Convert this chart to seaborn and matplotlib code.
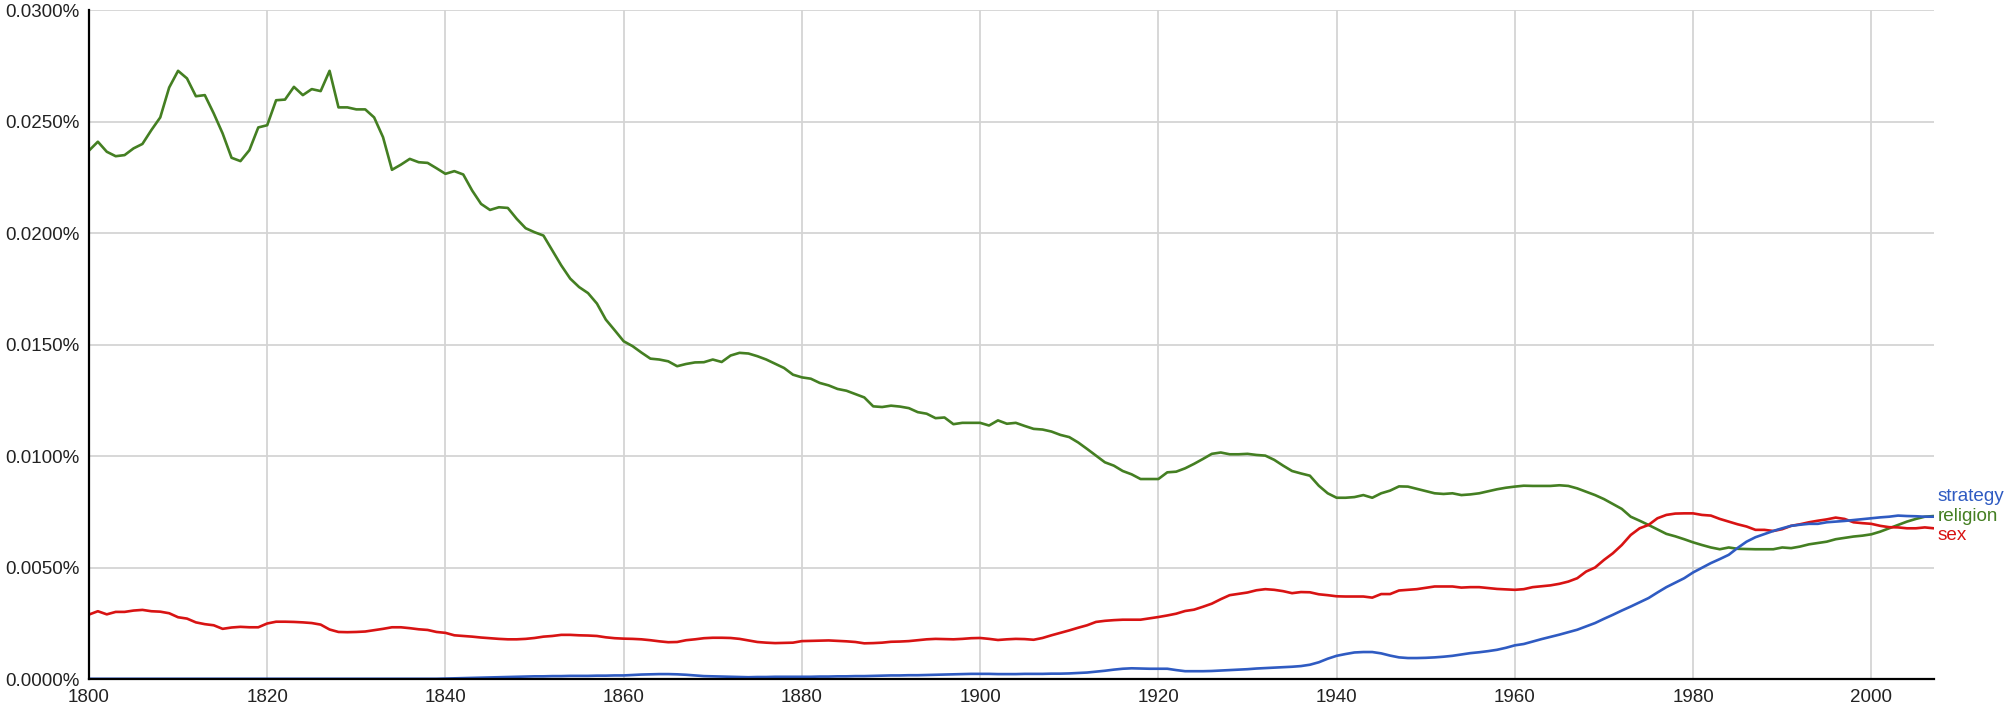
import numpy as np
import pandas as pd
import matplotlib
matplotlib.use("Agg")
import matplotlib.pyplot as plt
import seaborn as sns

# yearly frequencies in percent (1800-2007)
years = list(range(1800, 2008))

religion = [
    0.0237, 0.0241, 0.02365, 0.02345, 0.0235, 0.0238, 0.0240, 0.02462, 0.02519, 0.02653,
    0.02728, 0.02694, 0.02614, 0.02619, 0.02537, 0.02447, 0.02338, 0.02323, 0.02372, 0.02474,
    0.02484, 0.02596, 0.02599, 0.02656, 0.02619, 0.02646, 0.02637, 0.02728, 0.02564, 0.02564,
    0.02555, 0.02555, 0.02519, 0.0243, 0.02284, 0.02307, 0.02333, 0.02318, 0.02315, 0.02291,
    0.02266, 0.02278, 0.02263, 0.02191, 0.02131, 0.02104, 0.02116, 0.02113, 0.02064, 0.02022,
    0.02004, 0.01989, 0.01922, 0.01855, 0.01796, 0.01758, 0.01731, 0.01684, 0.01612, 0.01564,
    0.01515, 0.01493, 0.01464, 0.01437, 0.01433, 0.01425, 0.01403, 0.01413, 0.0142, 0.01421,
    0.01433, 0.01422, 0.01451, 0.01463, 0.0146, 0.01448, 0.01433, 0.01414, 0.01395, 0.01365,
    0.01353, 0.01347, 0.01328, 0.01317, 0.01301, 0.01293, 0.01278, 0.01263, 0.01223, 0.0122,
    0.01226, 0.01222, 0.01215, 0.01197, 0.0119, 0.0117, 0.01173, 0.01143, 0.01149, 0.01149,
    0.01149, 0.01137, 0.0116, 0.01145, 0.01149, 0.01135, 0.01122, 0.01119, 0.0111, 0.01095,
    0.01085, 0.01061, 0.01032, 0.01002, 0.00972, 0.00957, 0.00933, 0.00918, 0.00897, 0.00897,
    0.00897, 0.00927, 0.0093, 0.00945, 0.00965, 0.00987, 0.0101, 0.01016, 0.01008, 0.01008,
    0.0101, 0.01005, 0.01002, 0.00983, 0.00957, 0.00933, 0.00922, 0.00912, 0.00867, 0.00833,
    0.00813, 0.00813, 0.00816, 0.00825, 0.00813, 0.00833, 0.00845, 0.00864, 0.00863, 0.00853,
    0.00843, 0.00833, 0.0083, 0.00833, 0.00825, 0.00828, 0.00833, 0.00842, 0.00851, 0.00858,
    0.00863, 0.00867, 0.00866, 0.00866, 0.00866, 0.00869, 0.00866, 0.00855, 0.0084, 0.00825,
    0.00807, 0.00785, 0.00763, 0.00728, 0.0071, 0.00691, 0.00671, 0.00651, 0.0064, 0.00627,
    0.00613, 0.00601, 0.0059, 0.00582, 0.0059, 0.00584, 0.00583, 0.00582, 0.00582, 0.00582,
    0.0059, 0.00587, 0.00594, 0.00604, 0.0061, 0.00616, 0.00627, 0.00633, 0.00639, 0.00643,
    0.00649, 0.00661, 0.00676, 0.00691, 0.00706, 0.00718, 0.00728, 0.00731,
]

sex = [
    0.00289, 0.00304, 0.0029, 0.00301, 0.00301, 0.00307, 0.0031, 0.00304, 0.00302, 0.00295,
    0.00277, 0.00271, 0.00254, 0.00246, 0.00241, 0.00225, 0.00231, 0.00234, 0.00232, 0.00232,
    0.00249, 0.00257, 0.00257, 0.00256, 0.00254, 0.00251, 0.00244, 0.00222, 0.00211, 0.0021,
    0.00211, 0.00213, 0.00219, 0.00225, 0.00232, 0.00232, 0.00228, 0.00223, 0.0022, 0.00211,
    0.00207, 0.00196, 0.00193, 0.0019, 0.00186, 0.00183, 0.0018, 0.00178, 0.00178, 0.0018,
    0.00184, 0.0019, 0.00193, 0.00198, 0.00198, 0.00196, 0.00195, 0.00193, 0.00187, 0.00183,
    0.00181, 0.0018, 0.00178, 0.00174, 0.00169, 0.00165, 0.00166, 0.00174, 0.00178, 0.00183,
    0.00185, 0.00185, 0.00184, 0.0018, 0.00173, 0.00166, 0.00163, 0.00161, 0.00162, 0.00163,
    0.0017, 0.00171, 0.00172, 0.00173, 0.00171, 0.00169, 0.00166, 0.0016, 0.00161, 0.00163,
    0.00167, 0.00168, 0.0017, 0.00174, 0.00178, 0.0018, 0.00179, 0.00178, 0.0018, 0.00183,
    0.00184, 0.0018, 0.00175, 0.00178, 0.0018, 0.00179, 0.00176, 0.00184, 0.00196, 0.00207,
    0.00218, 0.0023, 0.00241, 0.00256, 0.00261, 0.00264, 0.00266, 0.00266, 0.00266, 0.00272,
    0.00278, 0.00285, 0.00293, 0.00305, 0.00311, 0.00324, 0.00338, 0.00358, 0.00376, 0.00382,
    0.00388, 0.00398, 0.00403, 0.004, 0.00394, 0.00385, 0.0039, 0.00389, 0.0038, 0.00376,
    0.00371, 0.0037, 0.0037, 0.0037, 0.00365, 0.00381, 0.00381, 0.00397, 0.004, 0.00403,
    0.00409, 0.00415, 0.00415, 0.00415, 0.0041, 0.00412, 0.00412, 0.00408, 0.00404, 0.00402,
    0.004, 0.00403, 0.00412, 0.00416, 0.0042, 0.00427, 0.00437, 0.00452, 0.00482, 0.005,
    0.00534, 0.00564, 0.00601, 0.00646, 0.00676, 0.00691, 0.00721, 0.00736, 0.00742, 0.00743,
    0.00743, 0.00736, 0.00733, 0.00718, 0.00706, 0.00694, 0.00684, 0.00669, 0.00669, 0.00664,
    0.00672, 0.00687, 0.00694, 0.00703, 0.0071, 0.00716, 0.00724, 0.00718, 0.00703, 0.00699,
    0.00696, 0.00687, 0.00681, 0.0068, 0.00676, 0.00676, 0.0068, 0.00676,
]

strategy = [
    0.00001, 0.00001, 0.00001, 0.00001, 0.00001, 0.00001, 0.00001, 0.00001, 0.00001, 0.00001,
    0.00001, 0.00001, 0.00001, 0.00001, 0.00001, 0.00001, 0.00001, 0.00001, 0.00001, 0.00001,
    0.00001, 0.00001, 0.00001, 0.00001, 0.00001, 0.00001, 0.00001, 0.00001, 0.00001, 0.00001,
    0.00001, 0.00001, 0.00001, 0.00001, 0.00001, 0.00001, 0.00001, 0.00001, 0.00001, 0.00001,
    0.00002, 0.00003, 0.00004, 0.00005, 0.00006, 0.00007, 0.00008, 0.00009, 0.0001, 0.00011,
    0.00012, 0.00012, 0.00013, 0.00013, 0.00014, 0.00014, 0.00014, 0.00015, 0.00015, 0.00016,
    0.00016, 0.00018, 0.0002, 0.00021, 0.00022, 0.00022, 0.00021, 0.00019, 0.00016, 0.00013,
    0.00012, 0.00011, 0.0001, 0.00009, 0.00008, 0.00009, 0.00009, 0.0001, 0.0001, 0.0001,
    0.0001, 0.0001, 0.00011, 0.00011, 0.00012, 0.00012, 0.00013, 0.00013, 0.00014, 0.00015,
    0.00016, 0.00016, 0.00017, 0.00017, 0.00018, 0.00019, 0.0002, 0.00021, 0.00022, 0.00023,
    0.00023, 0.00023, 0.00022, 0.00022, 0.00022, 0.00023, 0.00023, 0.00023, 0.00024, 0.00024,
    0.00025, 0.00027, 0.00029, 0.00033, 0.00037, 0.00042, 0.00046, 0.00048, 0.00047, 0.00046,
    0.00046, 0.00046, 0.0004, 0.00035, 0.00035, 0.00035, 0.00036, 0.00038, 0.0004, 0.00042,
    0.00044, 0.00047, 0.00049, 0.00051, 0.00053, 0.00055, 0.00058, 0.00064, 0.00075, 0.00091,
    0.00104, 0.00112, 0.00119, 0.00121, 0.00121, 0.00115, 0.00105, 0.00097, 0.00094, 0.00094,
    0.00095, 0.00097, 0.001, 0.00104, 0.0011, 0.00116, 0.0012, 0.00125, 0.00131, 0.0014,
    0.00151, 0.00157, 0.00168, 0.00179, 0.00189, 0.00199, 0.0021, 0.00221, 0.00236, 0.00251,
    0.0027, 0.00288, 0.00307, 0.00325, 0.00344, 0.00363, 0.00388, 0.00412, 0.00432, 0.00452,
    0.00478, 0.00499, 0.0052, 0.00538, 0.00557, 0.00588, 0.00616, 0.00636, 0.0065, 0.00664,
    0.00676, 0.00687, 0.00692, 0.00696, 0.00696, 0.00703, 0.00706, 0.00709, 0.00713, 0.00717,
    0.00721, 0.00725, 0.00728, 0.00733, 0.00731, 0.0073, 0.00728, 0.00728,
]

words = ["strategy", "religion", "sex"]
colors = {"strategy": "#2f5bc2", "religion": "#447f22", "sex": "#d81313"}
x_ticks = list(range(1800, 2001, 20))
y_ticks = [0.0, 0.005, 0.01, 0.015, 0.02, 0.025, 0.03]

df = pd.DataFrame({
    "year": years * 3,
    "freq": strategy + religion + sex,
    "word": ["strategy"] * len(years) + ["religion"] * len(years) + ["sex"] * len(years),
})

sns.set_style("white")
plt.rcParams["font.family"] = ["Liberation Sans", "DejaVu Sans"]

fig = plt.figure(figsize=(20.08, 7.07), dpi=100)
ax = fig.add_axes([0.0443, 0.0396, 0.9187, 0.946])

# religion first, then sex, strategy on top
sns.lineplot(data=df, x="year", y="freq", hue="word", hue_order=["religion", "sex", "strategy"],
             palette=colors, linewidth=1.9, legend=False, ax=ax)

ax.set_xlim(1800, 2007)
ax.set_ylim(0, 0.03)
ax.set_xticks(x_ticks)
ax.set_yticks(y_ticks)
ax.set_yticklabels([f"{v:.4f}%" for v in y_ticks])
ax.set_xlabel("")
ax.set_ylabel("")
ax.grid(True, color="#d4d4d4", linewidth=1.3)
ax.set_axisbelow(True)

for side in ["top", "right"]:
    ax.spines[side].set_visible(False)
for side in ["left", "bottom"]:
    ax.spines[side].set_color("black")
    ax.spines[side].set_linewidth(1.6)
ax.tick_params(axis="both", direction="out", length=5, width=1.6, color="black",
               labelsize=13.5, labelcolor="#222222", pad=2)

# word labels at the right end, stacked around the religion end value
end_y = religion[-1]
for word, dy in zip(words, [14, 0, -14]):
    ax.annotate(word, xy=(1.0, end_y), xycoords=("axes fraction", "data"),
                xytext=(3, dy), textcoords="offset points",
                ha="left", va="center", fontsize=13.6, color=colors[word])

fig.savefig("out.png", dpi=100)
